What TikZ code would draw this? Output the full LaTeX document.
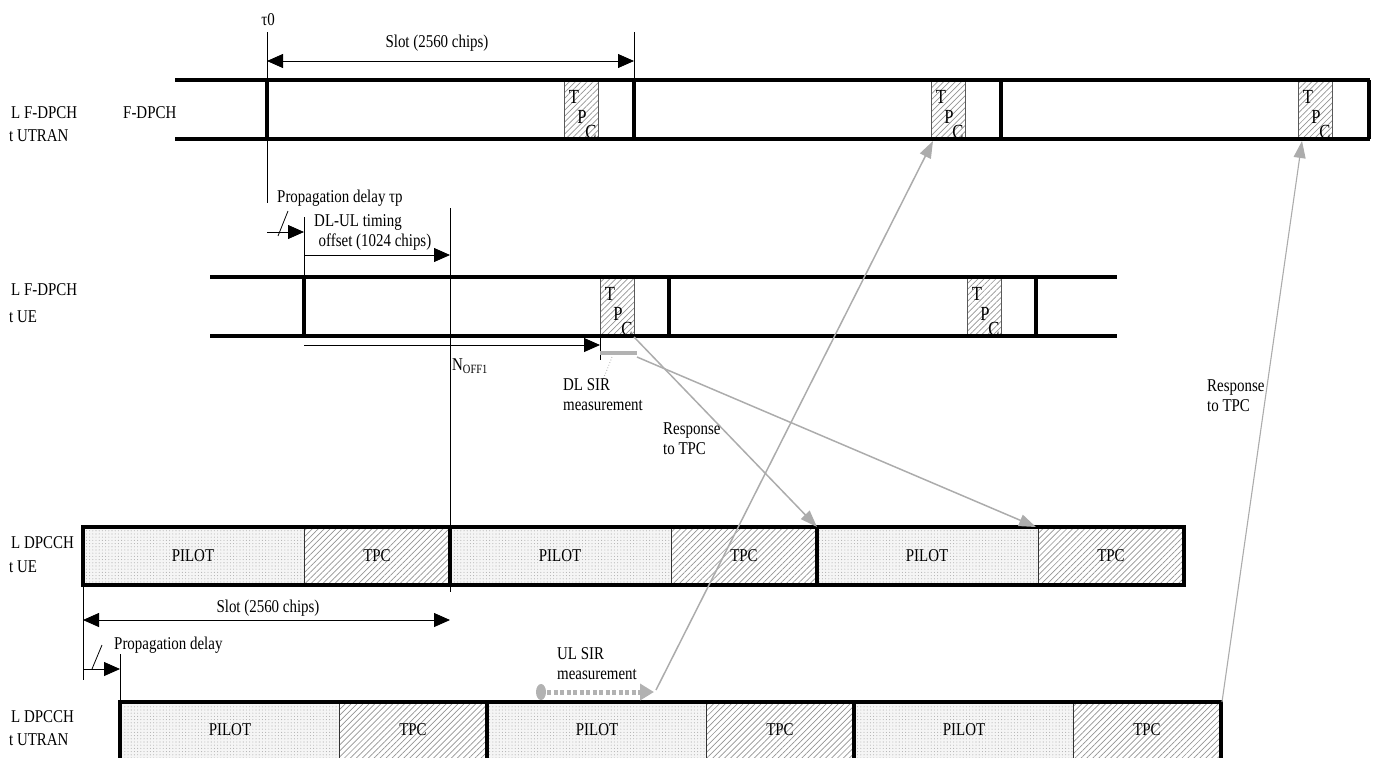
\documentclass[tikz,border=0pt]{standalone}
\usepackage{fontspec}
\setmainfont{Liberation Serif}[FakeStretch=0.83]
\usetikzlibrary{arrows.meta,patterns.meta}
\begin{document}
\begin{tikzpicture}[x=1pt,y=-1pt,
  bold/.style={line width=3.6pt},
  thinl/.style={line width=0.8pt},
  hatch/.style={pattern={Lines[angle=45,distance=4.2pt,line width=0.7pt]},pattern color=gray!85},
  pilotfill/.style={fill=gray!8,postaction={pattern={Dots[distance=3.2pt,radius=0.55pt]},pattern color=gray!60}},
  lbl/.style={font=\fontsize{18}{20}\selectfont,inner sep=0pt},
  tpcl/.style={font=\fontsize{20}{22}\selectfont,inner sep=0pt},
  blk/.style={thinl,-{Triangle[length=16pt,width=14pt]}},
  dbl/.style={thinl,{Triangle[length=16pt,width=14pt]}-{Triangle[length=16pt,width=14pt]}},
  garr/.style={draw=gray!65,line width=1.5pt,-{Triangle[length=17pt,width=12pt]}},
]
\useasboundingbox (0,0) rectangle (1377,758);
\clip (0,0) rectangle (1377,758);

% ---------- Row 1: F-DPCH at UTRAN ----------
\foreach \i/\x in {1/564,2/931,3/1298}{
  \path[hatch] (\x,80) rectangle ++(34,59);
  \draw[thinl,gray!70!black] (\x,80) rectangle ++(34,59);
  \node[tpcl] (aT\i) at (\x+10,97) {T};
  \node[tpcl] (aP\i) at (\x+18,117) {P};
  \node[tpcl] (aC\i) at (\x+27,132) {C};
}
\draw[bold] (175,80) -- (1370,80);
\draw[bold] (175,139) -- (1370,139);
\foreach \x in {267,634,1001,1369}{ \draw[bold] (\x,80) -- (\x,139); }
\node[lbl,anchor=west] (r1a) at (11,113) {L F-DPCH};
\node[lbl,anchor=west] (r1b) at (9,136) {t UTRAN};
\node[lbl,anchor=west] (r1c) at (123,113) {F-DPCH};

\coordinate (t0top) at (267,32);
\coordinate (t0bot) at (267,203);
\coordinate (s1top) at (634,32);
\coordinate (s1bot) at (634,80);
\draw[thinl] (t0top) -- (t0bot);
\draw[thinl] (s1top) -- (s1bot);
\node[lbl] (tau0) at (268,20) {τ0};
\coordinate (slA) at (267,61);
\coordinate (slB) at (634,61);
\draw[dbl] (slA) -- (slB);
\node[lbl] (slot1) at (437,43) {Slot (2560 chips)};

% ---------- propagation / timing ----------
\node[lbl,anchor=west] (prop1) at (277,198) {Propagation delay τp};
\coordinate (pA) at (267,232);
\coordinate (pB) at (304,232);
\draw[blk] (pA) -- (pB);
\coordinate (slsh1a) at (278,236);
\coordinate (slsh1b) at (288,211);
\draw[thinl] (slsh1a) -- (slsh1b);
\node[lbl] (dlul1) at (358,222) {DL-UL timing};
\node[lbl] (dlul2) at (375,242) {offset (1024 chips)};
\coordinate (dA) at (304,255);
\coordinate (dB) at (450,255);
\draw[blk] (dA) -- (dB);
\coordinate (v304a) at (304,217);
\coordinate (v304b) at (304,277);
\draw[thinl] (v304a) -- (v304b);
\coordinate (v450a) at (450,208);
\coordinate (v450b) at (450,592);
\draw[thinl] (v450a) -- (v450b);

% ---------- Row 2: F-DPCH at UE ----------
\foreach \i/\x in {1/600,2/967}{
  \path[hatch] (\x,277) rectangle ++(34,59);
  \draw[thinl,gray!70!black] (\x,277) rectangle ++(34,59);
  \node[tpcl] (bT\i) at (\x+10,294) {T};
  \node[tpcl] (bP\i) at (\x+18,314) {P};
  \node[tpcl] (bC\i) at (\x+27,329) {C};
}
\draw[bold] (210,277) -- (1117,277);
\draw[bold] (210,336) -- (1117,336);
\foreach \x in {304,669,1036}{ \draw[bold] (\x,277) -- (\x,336); }
\node[lbl,anchor=west] (r2a) at (11,290) {L F-DPCH};
\node[lbl,anchor=west] (r2b) at (9,317) {t UE};

\coordinate (nA) at (304,345);
\coordinate (nB) at (600,345);
\draw[blk] (nA) -- (nB);
\node[lbl,anchor=west] (noff) at (452,366) {N\textsubscript{OFF1}};
\coordinate (tickA) at (600,338);
\coordinate (tickB) at (600,360);
\draw[thinl] (tickA) -- (tickB);
\coordinate (barA) at (600,353);
\coordinate (barB) at (637,353);
\draw[gray!60,line width=4pt] (barA) -- (barB);
\coordinate (dotA) at (612,357);
\coordinate (dotB) at (603,380);
\draw[gray!70,thinl,dotted] (dotA) -- (dotB);
\node[lbl,anchor=north west,align=left] (dlsir) at (563,378) {DL SIR\\measurement};

% ---------- Row 3: DPCCH at UE ----------
\foreach \i/\x in {1/83,2/450,3/817}{
  \path[pilotfill] (\x,527) rectangle ++(221,58);
  \path[hatch] (\x+221,527) rectangle ++(146,58);
  \draw[thinl,gray!40!black] (\x+221,527) -- ++(0,58);
  \draw[bold] (\x,527) rectangle ++(367,58);
  \node[lbl] (cP\i) at (\x+110,556) {PILOT};
  \node[lbl] (cT\i) at (\x+294,556) {TPC};
}
\node[lbl,anchor=west] (r3a) at (11,543) {L DPCCH};
\node[lbl,anchor=west] (r3b) at (9,567) {t UE};

\coordinate (s3A) at (83,620);
\coordinate (s3B) at (450,620);
\draw[dbl] (s3A) -- (s3B);
\node[lbl] (slot3) at (268,608) {Slot (2560 chips)};
\coordinate (v83a) at (83,585);
\coordinate (v83b) at (83,680);
\draw[thinl] (v83a) -- (v83b);
\coordinate (v120a) at (120,654);
\coordinate (v120b) at (120,702);
\draw[thinl] (v120a) -- (v120b);
\coordinate (q1) at (83,669);
\coordinate (q2) at (120,669);
\draw[blk] (q1) -- (q2);
\coordinate (slsh2a) at (92,669);
\coordinate (slsh2b) at (102,645);
\draw[thinl] (slsh2a) -- (slsh2b);
\node[lbl,anchor=west] (prop2) at (114,645) {Propagation delay};

% ---------- Row 4: DPCCH at UTRAN ----------
\foreach \i/\x in {1/120,2/487,3/854}{
  \path[pilotfill] (\x,702) rectangle ++(219,70);
  \path[hatch] (\x+219,702) rectangle ++(148,70);
  \draw[thinl,gray!40!black] (\x+219,702) -- ++(0,70);
  \draw[bold] (\x,702) rectangle ++(367,70);
  \node[lbl] (dP\i) at (\x+110,730) {PILOT};
  \node[lbl] (dT\i) at (\x+293,730) {TPC};
}
\node[lbl,anchor=west] (r4a) at (11,717) {L DPCCH};
\node[lbl,anchor=west] (r4b) at (9,740) {t UTRAN};

% UL SIR measurement
\node[lbl,anchor=north west,align=left] (ulsir) at (557,647) {UL SIR\\measurement};
\fill[gray!60] (541,692) ellipse (5 and 8);
\coordinate (ulA) at (547,692);
\coordinate (ulB) at (654,692);
\draw[gray!60,line width=5pt,dash pattern=on 4pt off 2.5pt,-{Triangle[length=14pt,width=16pt]}] (ulA) -- (ulB);

% ---------- gray response arrows ----------
\coordinate (g1a) at (634,337);
\coordinate (g1b) at (817,527);
\draw[garr] (g1a) -- (g1b);
\coordinate (g2a) at (637,357);
\coordinate (g2b) at (1036,527);
\draw[garr] (g2a) -- (g2b);
\coordinate (g3a) at (656,690);
\coordinate (g3b) at (933,141);
\draw[garr] (g3a) -- (g3b);
\coordinate (g4a) at (1222,702);
\coordinate (g4b) at (1302,141);
\draw[garr,line width=1.1pt] (g4a) -- (g4b);

\node[lbl,anchor=north west,align=left] (resp1) at (663,423) {Response\\to TPC};
\node[lbl,anchor=north west,align=left] (resp2) at (1207,380) {Response\\to TPC};
\end{tikzpicture}
\end{document}
